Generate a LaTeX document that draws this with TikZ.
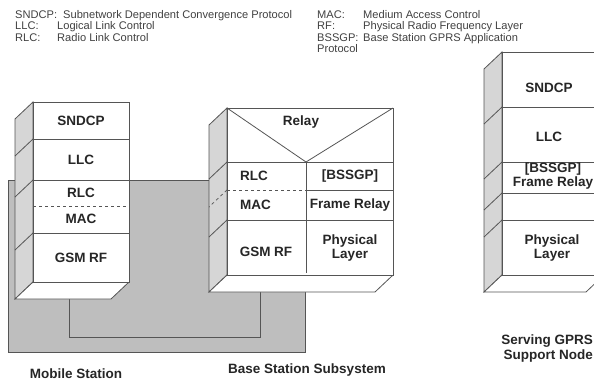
\documentclass[tikz,border=0pt]{standalone}
\usepackage{fontspec}
\setmainfont{Liberation Sans}

\definecolor{edgegray}{RGB}{85,85,85}
\definecolor{sidegray}{RGB}{214,214,214}
\definecolor{basegray}{RGB}{190,190,190}

\newcommand{\depthx}{18}
\newcommand{\depthy}{17}
% gray side face of a stack, from its top edge to its bottom edge
\newcommand{\sideface}[3]{%
    \pgfmathsetmacro{\sidex}{#1 - \depthx}%
    \draw[side] (#1, #2) -- (\sidex, #2 + \depthy) -- (\sidex, #3 + \depthy) -- (#1, #3) -- cycle;%
}
% white foot slab under a stack
\newcommand{\footslab}[3]{%
    \pgfmathsetmacro{\sidex}{#1 - \depthx}%
    \pgfmathsetmacro{\footx}{#2 - \depthx}%
    \draw[slab] (#1, #3) -- (#2, #3) -- (\footx, #3 + \depthy) -- (\sidex, #3 + \depthy) -- cycle;%
}
% one layer boundary, across the front and the side face
\newcommand{\layer}[3]{%
    \draw[edge] (#1, #3) -- (#2, #3);%
    \draw[edge] (#1, #3) -- ++(-\depthx, \depthy);%
}

\tikzset{
    edge/.style={draw=edgegray, line width=0.8pt},
    side/.style={edge, fill=sidegray},
    slab/.style={edge, fill=white},
    front/.style={edge, fill=white},
    sublayer/.style={draw=edgegray, line width=0.7pt, dashed},
    lbl/.style={inner sep=0pt, text=black!85, font=\fontsize{13.5}{14}\selectfont\bfseries},
    key/.style={inner sep=0pt, anchor=base west, text=black!75, font=\fontsize{11.1}{12}\selectfont}
}

\begin{document}
\begin{tikzpicture}[x=1pt, y=-1pt, line join=miter]
        \useasboundingbox (0, 0) rectangle (594, 383);
        \clip (0, 0) rectangle (594, 383);

        % Abbreviations
        \node[key] (k-sndcp) at (15, 18) {SNDCP:};
        \node[key] (d-sndcp) at (63, 18) {Subnetwork Dependent Convergence Protocol};
        \node[key] (k-llc) at (15, 29.5) {LLC:};
        \node[key] (d-llc) at (57, 29.5) {Logical Link Control};
        \node[key] (k-rlc) at (15, 41) {RLC:};
        \node[key] (d-rlc) at (57, 41) {Radio Link Control};
        \node[key] (k-mac) at (317, 18) {MAC:};
        \node[key] (d-mac) at (363, 18) {Medium Access Control};
        \node[key] (k-rf) at (317, 29.5) {RF:};
        \node[key] (d-rf) at (363, 29.5) {Physical Radio Frequency Layer};
        \node[key] (k-bssgp) at (317, 41) {BSSGP:};
        \node[key] (d-bssgp) at (363, 41) {Base Station GPRS Application};
        \node[key] (d-bssgp2) at (317, 52.5) {Protocol};

        % Gray area behind MS and BSS
        \fill[basegray, draw=edgegray, line width=0.8pt] (8, 180) rectangle (305, 352);

        % Link between MS and BSS
        \coordinate (msfoot) at (69, 299);
        \coordinate (bssfoot) at (260, 292);
        \coordinate (link) at (69, 337);
        \draw[edge] (msfoot) -- (link) -| (bssfoot);

        % --- Mobile Station stack ---
        \sideface{33}{102}{282}
        \footslab{33}{129}{282}
        \draw[front] (33, 102) rectangle (129, 282);
        \layer{33}{129}{139}
        \layer{33}{129}{180}
        \draw[sublayer] (33, 206) -- (129, 206);
        \layer{33}{129}{233}
        \node[lbl] (ms-sndcp) at (81, 121) {SNDCP};
        \node[lbl] (ms-llc) at (81, 160) {LLC};
        \node[lbl] (ms-rlc) at (81, 193) {RLC};
        \node[lbl] (ms-mac) at (81, 219) {MAC};
        \node[lbl] (ms-rf) at (81, 258) {GSM RF};

        % --- Base Station Subsystem stack ---
        \sideface{227}{108}{275}
        \footslab{227}{393}{275}
        \draw[front] (227, 108) rectangle (393, 275);
        \draw[edge] (227, 108) -- (306, 162) -- (393, 108);
        \layer{227}{393}{162}
        \draw[sublayer] (227, 190) -- (306, 190);
        \draw[sublayer] (227, 190) -- ++(-\depthx, \depthy);
        \draw[edge] (306, 190) -- (393, 190);
        \layer{227}{393}{220}
        \draw[edge] (306, 162) -- (306, 273);
        \node[lbl] (bss-relay) at (301, 122) {Relay};
        \node[lbl, anchor=west] (bss-rlc) at (240, 176) {RLC};
        \node[lbl, anchor=west] (bss-mac) at (240, 205) {MAC};
        \node[lbl] (bss-rf) at (266, 252) {GSM RF};
        \node[lbl] (bss-bssgp) at (350, 176) {[BSSGP]};
        \node[lbl] (bss-fr) at (350, 205) {Frame Relay};
        \node[lbl, align=center] (bss-phy) at (350, 248) {Physical\\Layer};

        % --- Serving GPRS Support Node stack ---
        \sideface{502}{52}{275}
        \footslab{502}{604}{275}
        \draw[front] (502, 52) rectangle (604, 275);
        \layer{502}{604}{107}
        \layer{502}{604}{162}
        \layer{502}{604}{193}
        \layer{502}{604}{220}
        \node[lbl] (sgsn-sndcp) at (549, 88) {SNDCP};
        \node[lbl] (sgsn-llc) at (549, 137) {LLC};
        \node[lbl, align=center] (sgsn-fr) at (553, 176.5) {[BSSGP]\\Frame Relay};
        \node[lbl, align=center] (sgsn-phy) at (552, 248.5) {Physical\\Layer};

        % Node names
        \node[lbl] (ms) at (76, 374) {Mobile Station};
        \node[lbl] (bss) at (307, 370) {Base Station Subsystem};
        \node[lbl, anchor=east, align=right, font=\fontsize{13.5}{15}\selectfont\bfseries] (sgsn) at (593, 348.5) {Serving GPRS\\Support Node};

    \end{tikzpicture}
\end{document}
